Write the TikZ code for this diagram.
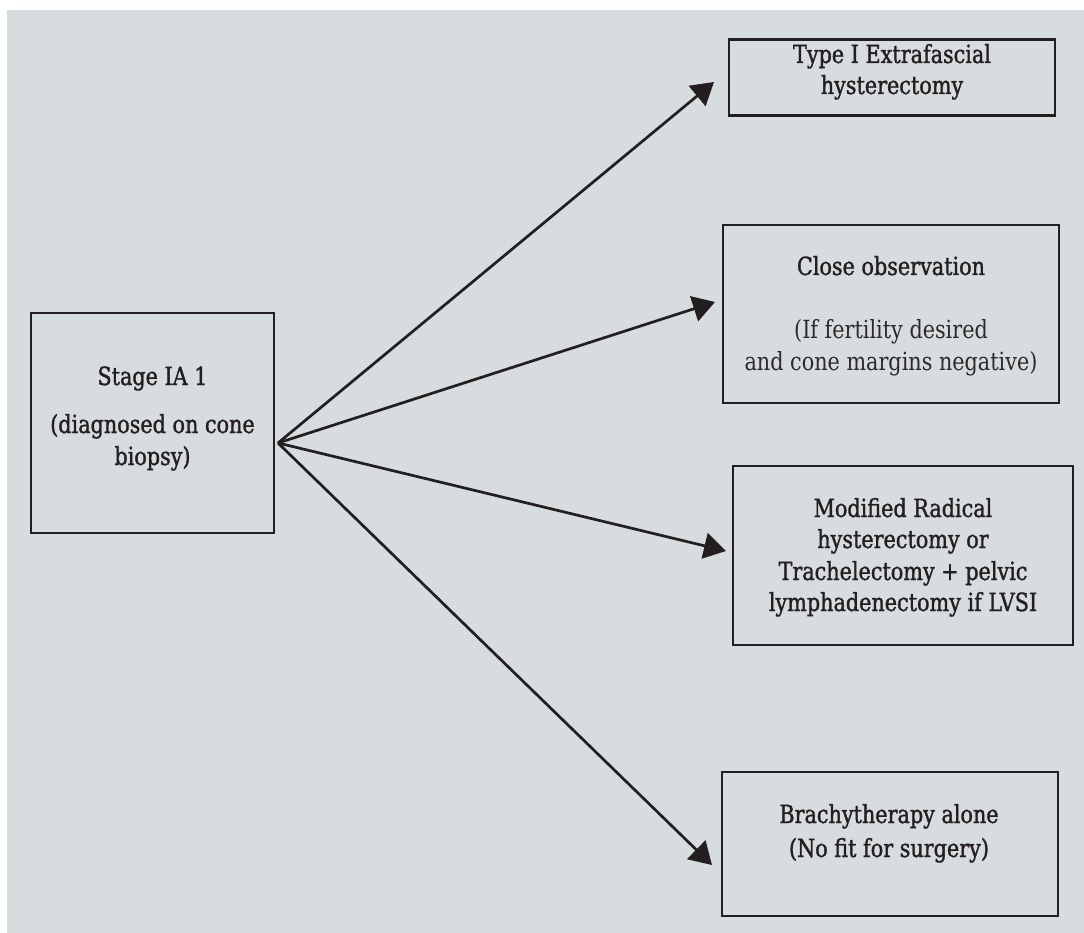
\documentclass[tikz,border=0pt]{standalone}
\usepackage{fontspec}
\setmainfont{DejaVu Serif}
\newfontfamily\mainfnt{DejaVu Serif}[FakeStretch=0.83,FakeBold=1.3]
\newfontfamily\lightfnt{DejaVu Serif}[FakeStretch=0.83]
\usetikzlibrary{arrows.meta}
\definecolor{bg}{RGB}{215,220,223}
\definecolor{ink}{RGB}{35,31,32}
\definecolor{inklight}{RGB}{45,41,42}
\begin{document}
\begin{tikzpicture}[x=1pt,y=-1pt,
  box/.style={draw=ink,line width=2.6pt,rectangle,inner sep=0pt,outer sep=0pt},
  txt/.style={anchor=base,inner sep=0pt,text=ink,font=\mainfnt\fontsize{25}{29}\selectfont},
  ltxt/.style={anchor=base,inner sep=0pt,text=inklight,font=\lightfnt\fontsize{25}{29}\selectfont},
  arr/.style={draw=ink,line width=2.7pt,-{Triangle[length=22pt,width=26pt]}}]
\useasboundingbox[fill=white] (0,0) rectangle (1084,933);
\fill[bg] (7,10) rectangle (1084,933);
% boxes
\node[box,minimum width=243pt,minimum height=220pt] (b0) at (152.5,423) {};
\node[box,minimum width=326pt,minimum height=76pt] (b1) at (892,77.5) {};
\node[box,minimum width=336pt,minimum height=178pt] (b2) at (891,314) {};
\node[box,minimum width=340pt,minimum height=179pt] (b3) at (903,555.5) {};
\node[box,minimum width=336pt,minimum height=144pt] (b4) at (890,844) {};
% texts
\node[txt] (t0a) at (152.5,385) {Stage IA 1};
\node[txt] (t0b) at (152.5,433) {(diagnosed on cone};
\node[txt] (t0c) at (152.5,465) {biopsy)};
\node[txt] (t1a) at (892,63) {Type I Extrafascial};
\node[txt] (t1b) at (892,94) {hysterectomy};
\node[txt] (t2a) at (891,275) {Close observation};
\node[ltxt] (t2b) at (891,338) {(If fertility desired};
\node[ltxt] (t2c) at (891,370) {and cone margins negative)};
\node[txt] (t3a) at (903,517) {Modified Radical};
\node[txt] (t3b) at (903,548) {hysterectomy or};
\node[txt] (t3c) at (903,580) {Trachelectomy + pelvic};
\node[txt] (t3d) at (903,611) {lymphadenectomy if LVSI};
\node[txt] (t4a) at (889,823) {Brachytherapy alone};
\node[txt] (t4b) at (889,857) {(No fit for surgery)};
% connectors
\coordinate (s) at (278,443);
\coordinate (e1) at (714,82);
\coordinate (e2) at (715,302);
\coordinate (e3) at (726,551);
\coordinate (e4) at (712,865);
\draw[arr] (s) -- (e1);
\draw[arr] (s) -- (e2);
\draw[arr] (s) -- (e3);
\draw[arr] (s) -- (e4);
\end{tikzpicture}
\end{document}
